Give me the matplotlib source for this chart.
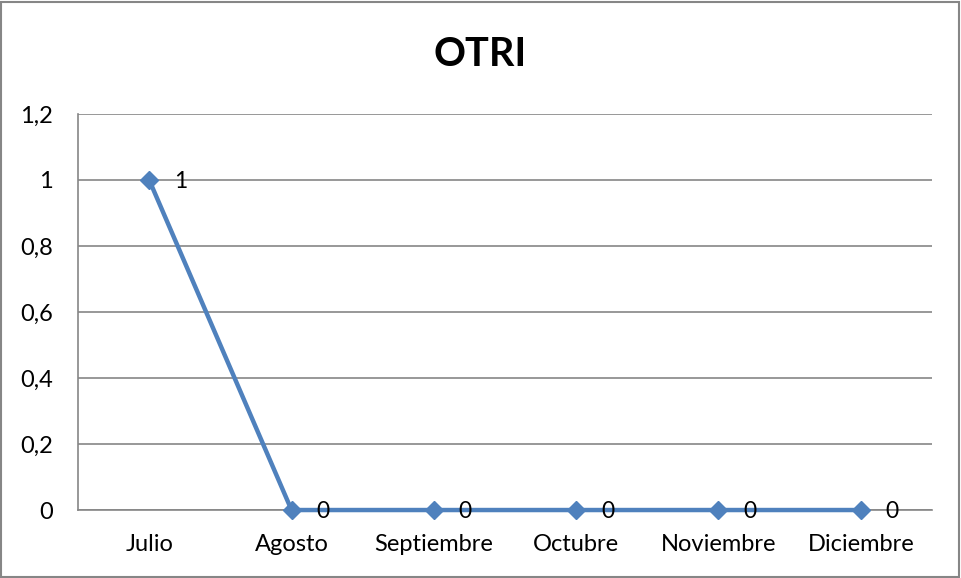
import matplotlib.pyplot as plt
from matplotlib.patches import Rectangle
from matplotlib.ticker import FuncFormatter

plt.rcParams['font.family'] = ['Lato', 'DejaVu Sans']

months = ['Julio', 'Agosto', 'Septiembre', 'Octubre', 'Noviembre', 'Diciembre']
values = [1, 0, 0, 0, 0, 0]
title = 'OTRI'

grey = '#868686'
blue = '#4F81BD'

fig = plt.figure(figsize=(9.61, 5.78), dpi=100)
ax = fig.add_axes([0.0812, 0.1176, 0.8886, 0.6852])

x = list(range(len(months)))
ax.plot(x, values, color=blue, lw=3.2, marker='D', ms=9.5, zorder=3, clip_on=False)
for xi, v in zip(x, values):
    ax.annotate(str(v), (xi, v), xytext=(18, -1), textcoords='offset points',
                ha='left', va='center', fontsize=16.5, zorder=4)

ax.set_xlim(-0.5, len(months) - 0.5)
ax.set_ylim(0, 1.2)
ax.set_yticks([0, 0.2, 0.4, 0.6, 0.8, 1.0, 1.2])
ax.yaxis.set_major_formatter(FuncFormatter(
    lambda v, p: ('%g' % round(v, 1)).replace('.', ',')))
ax.set_xticks(x)
ax.set_xticklabels(months)
ax.tick_params(axis='both', length=0, labelsize=17)
ax.tick_params(axis='y', pad=18)
ax.tick_params(axis='x', pad=17)

ax.grid(axis='y', color=grey, lw=1.2)
ax.set_axisbelow(True)
for s in ['top', 'right']:
    ax.spines[s].set_visible(False)
for s in ['left', 'bottom']:
    ax.spines[s].set_color(grey)
    ax.spines[s].set_linewidth(1.2)

fig.text(0.5, 0.905, title, ha='center', va='center', fontsize=28.5, fontweight='bold')

fig.patches.append(Rectangle((0.001, 0.002), 0.997, 0.995, transform=fig.transFigure,
                             fill=False, edgecolor=grey, lw=1.5))

fig.savefig('out.png', dpi=100)
